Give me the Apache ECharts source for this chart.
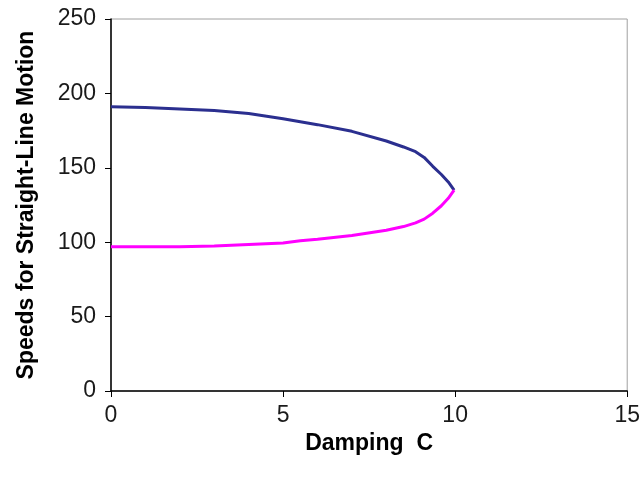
<!DOCTYPE html>
<html>
<head>
<meta charset="utf-8">
<script src="https://cdn.jsdelivr.net/npm/echarts@6/dist/echarts.min.js"></script>
<style>html,body{margin:0;padding:0;background:#fff}#c{width:643px;height:477px}</style>
</head>
<body>
<div id="c"></div>
<script>
const damping = [0, 1, 2, 3, 4, 5, 5.5, 6, 7, 8, 8.5, 8.85, 9.1, 9.35, 9.6, 9.8, 9.97];
const speedUpper = [191, 190.5, 189.5, 188.5, 186.5, 183, 181, 179, 174.5, 168, 164, 160.8, 157, 151, 145.5, 140.5, 135];
const speedLower = [97, 97, 97, 97.5, 98.5, 99.5, 101, 102, 104.5, 108, 110.5, 113, 115.5, 119.5, 124.5, 129.5, 135];
const xTicks = [0, 5, 10, 15];
const yTicks = [0, 50, 100, 150, 200, 250];

const pairs = (xs, ys) => xs.map((x, i) => [x, ys[i]]);
const chart = echarts.init(document.getElementById('c'), null, {renderer: 'canvas'});
const labelFont = {fontFamily: 'Liberation Sans', fontSize: 23, color: '#1a1a1a'};
const titleFont = {fontFamily: 'Liberation Sans', fontWeight: 'bold', fontSize: 23, color: '#000'};
chart.setOption({
  animation: false,
  grid: {left: 111, right: 14, top: 19, bottom: 86, show: true, borderColor: '#a0a0a0', borderWidth: 1},
  xAxis: {
    type: 'value', min: xTicks[0], max: xTicks[xTicks.length - 1], interval: 5,
    name: 'Damping  C', nameLocation: 'middle', nameGap: 38,
    nameTextStyle: titleFont,
    axisLine: {show: true, onZero: false, lineStyle: {color: '#000', width: 1.5}},
    axisTick: {show: true, length: 6, lineStyle: {color: '#000'}},
    axisLabel: Object.assign({margin: 13}, labelFont),
    splitLine: {show: false}
  },
  yAxis: {
    type: 'value', min: yTicks[0], max: yTicks[yTicks.length - 1], interval: 50,
    name: 'Speeds for Straight-Line Motion', nameLocation: 'middle', nameGap: 73, nameRotate: 90,
    nameTextStyle: titleFont,
    axisLine: {show: true, onZero: false, lineStyle: {color: '#000', width: 1.5}},
    axisTick: {show: true, length: 6, lineStyle: {color: '#000'}},
    axisLabel: Object.assign({margin: 15}, labelFont),
    splitLine: {show: false}
  },
  series: [
    {type: 'line', data: pairs(damping, speedUpper), showSymbol: false, symbol: 'none',
     lineStyle: {color: '#2b2f8f', width: 3}, itemStyle: {color: '#2b2f8f'}},
    {type: 'line', data: pairs(damping, speedLower), showSymbol: false, symbol: 'none',
     lineStyle: {color: '#ff00ff', width: 3}, itemStyle: {color: '#ff00ff'}}
  ]
});
</script>
</body>
</html>
